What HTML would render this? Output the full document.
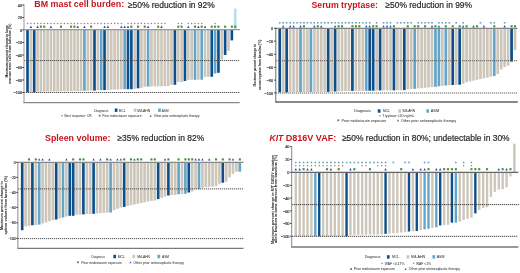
<!DOCTYPE html>
<html><head><meta charset="utf-8"><title>Waterfall plots</title>
<style>
html,body{margin:0;padding:0;background:#fff;width:520px;height:273px;overflow:hidden}
svg{display:block;will-change:transform}
text{font-family:"Liberation Sans",sans-serif}
</style></head><body>
<svg xmlns="http://www.w3.org/2000/svg" width="520" height="273" viewBox="0 0 520 273">
<rect width="520" height="273" fill="#fff"/>
<rect x="26.18" y="29.7" width="2.65" height="62.6" fill="#0d4f8b"/>
<rect x="29.53" y="29.7" width="2.65" height="62.6" fill="#cdc6ba"/>
<rect x="32.88" y="29.7" width="2.65" height="62.6" fill="#0d4f8b"/>
<rect x="36.22" y="29.7" width="2.65" height="62.1" fill="#cdc6ba"/>
<rect x="39.57" y="29.7" width="2.65" height="62.04" fill="#cdc6ba"/>
<rect x="42.92" y="29.7" width="2.65" height="61.98" fill="#cdc6ba"/>
<rect x="46.27" y="29.7" width="2.65" height="61.92" fill="#cdc6ba"/>
<rect x="49.62" y="29.7" width="2.65" height="61.85" fill="#cdc6ba"/>
<rect x="52.97" y="29.7" width="2.65" height="61.79" fill="#cdc6ba"/>
<rect x="56.33" y="29.7" width="2.65" height="61.73" fill="#cdc6ba"/>
<rect x="59.67" y="29.7" width="2.65" height="61.67" fill="#cdc6ba"/>
<rect x="63.02" y="29.7" width="2.65" height="61.61" fill="#cdc6ba"/>
<rect x="66.38" y="29.7" width="2.65" height="61.55" fill="#cdc6ba"/>
<rect x="69.73" y="29.7" width="2.65" height="61.48" fill="#cdc6ba"/>
<rect x="73.08" y="29.7" width="2.65" height="61.42" fill="#cdc6ba"/>
<rect x="76.42" y="29.7" width="2.65" height="61.36" fill="#cdc6ba"/>
<rect x="79.77" y="29.7" width="2.65" height="61.3" fill="#cdc6ba"/>
<rect x="83.12" y="29.7" width="2.65" height="61" fill="#62a6cb"/>
<rect x="86.48" y="29.7" width="2.65" height="61" fill="#cdc6ba"/>
<rect x="89.83" y="29.7" width="2.65" height="60.9" fill="#cdc6ba"/>
<rect x="93.17" y="29.7" width="2.65" height="60.9" fill="#0d4f8b"/>
<rect x="96.53" y="29.7" width="2.65" height="60.5" fill="#cdc6ba"/>
<rect x="99.88" y="29.7" width="2.65" height="60.4" fill="#62a6cb"/>
<rect x="103.22" y="29.7" width="2.65" height="60.4" fill="#0d4f8b"/>
<rect x="106.58" y="29.7" width="2.65" height="60.2" fill="#cdc6ba"/>
<rect x="109.92" y="29.7" width="2.65" height="60.1" fill="#cdc6ba"/>
<rect x="113.28" y="29.7" width="2.65" height="59.9" fill="#cdc6ba"/>
<rect x="116.62" y="29.7" width="2.65" height="59.8" fill="#cdc6ba"/>
<rect x="119.97" y="29.7" width="2.65" height="59.6" fill="#cdc6ba"/>
<rect x="123.33" y="29.7" width="2.65" height="59.5" fill="#62a6cb"/>
<rect x="126.67" y="29.7" width="2.65" height="59.5" fill="#0d4f8b"/>
<rect x="130.03" y="29.7" width="2.65" height="59.5" fill="#0d4f8b"/>
<rect x="133.38" y="29.7" width="2.65" height="59.1" fill="#cdc6ba"/>
<rect x="136.73" y="29.7" width="2.65" height="58.6" fill="#0d4f8b"/>
<rect x="140.08" y="29.7" width="2.65" height="58.2" fill="#cdc6ba"/>
<rect x="143.43" y="29.7" width="2.65" height="57" fill="#cdc6ba"/>
<rect x="146.78" y="29.7" width="2.65" height="56.8" fill="#62a6cb"/>
<rect x="150.12" y="29.7" width="2.65" height="56.75" fill="#cdc6ba"/>
<rect x="153.48" y="29.7" width="2.65" height="56.7" fill="#cdc6ba"/>
<rect x="156.83" y="29.7" width="2.65" height="56.65" fill="#cdc6ba"/>
<rect x="160.18" y="29.7" width="2.65" height="56.6" fill="#cdc6ba"/>
<rect x="163.53" y="29.7" width="2.65" height="56.55" fill="#cdc6ba"/>
<rect x="166.88" y="29.7" width="2.65" height="56.5" fill="#cdc6ba"/>
<rect x="170.23" y="29.7" width="2.65" height="55.1" fill="#cdc6ba"/>
<rect x="173.58" y="29.7" width="2.65" height="55.1" fill="#0d4f8b"/>
<rect x="176.93" y="29.7" width="2.65" height="52.4" fill="#cdc6ba"/>
<rect x="180.28" y="29.7" width="2.65" height="52.4" fill="#cdc6ba"/>
<rect x="183.63" y="29.7" width="2.65" height="51.3" fill="#0d4f8b"/>
<rect x="186.98" y="29.7" width="2.65" height="50.2" fill="#cdc6ba"/>
<rect x="190.33" y="29.7" width="2.65" height="50.1" fill="#cdc6ba"/>
<rect x="193.68" y="29.7" width="2.65" height="50.1" fill="#62a6cb"/>
<rect x="197.03" y="29.7" width="2.65" height="50.1" fill="#cdc6ba"/>
<rect x="200.38" y="29.7" width="2.65" height="50" fill="#62a6cb"/>
<rect x="203.73" y="29.7" width="2.65" height="47.2" fill="#cdc6ba"/>
<rect x="207.08" y="29.7" width="2.65" height="47.1" fill="#cdc6ba"/>
<rect x="210.43" y="29.7" width="2.65" height="47.1" fill="#0d4f8b"/>
<rect x="213.78" y="29.7" width="2.65" height="43.8" fill="#62a6cb"/>
<rect x="217.13" y="29.7" width="2.65" height="43.1" fill="#0d4f8b"/>
<rect x="220.48" y="29.7" width="2.65" height="29.9" fill="#cdc6ba"/>
<rect x="223.83" y="29.7" width="2.65" height="25.3" fill="#0d4f8b"/>
<rect x="227.18" y="29.7" width="2.65" height="21.2" fill="#cdc6ba"/>
<rect x="230.53" y="29.7" width="2.65" height="10.7" fill="#0d4f8b"/>
<rect x="233.88" y="8.6" width="2.65" height="21.1" fill="#b9dcee"/>
<line x1="24" y1="60.55" x2="239" y2="60.55" stroke="#505050" stroke-width="0.95" stroke-dasharray="1.3 0.7"/>
<line x1="24" y1="92.5" x2="239.5" y2="92.5" stroke="#505050" stroke-width="0.95" stroke-dasharray="1.3 0.7"/>
<line x1="24" y1="29.7" x2="240" y2="29.7" stroke="#999" stroke-width="1.2"/>
<line x1="24" y1="4.4" x2="24" y2="102.6" stroke="#999" stroke-width="1"/>
<line x1="23.5" y1="102.6" x2="239.7" y2="102.6" stroke="#8a8a8a" stroke-width="1.3"/>
<line x1="22.2" y1="5" x2="24" y2="5" stroke="#222" stroke-width="0.8"/>
<text x="22.1" y="6.74" font-size="3.8" fill="#222" text-anchor="end" stroke="#222" stroke-width="0.12">40</text>
<line x1="22.2" y1="17.5" x2="24" y2="17.5" stroke="#222" stroke-width="0.8"/>
<text x="22.1" y="19.24" font-size="3.8" fill="#222" text-anchor="end" stroke="#222" stroke-width="0.12">20</text>
<line x1="22.2" y1="29.9" x2="24" y2="29.9" stroke="#222" stroke-width="0.8"/>
<text x="22.1" y="31.64" font-size="3.8" fill="#222" text-anchor="end" stroke="#222" stroke-width="0.12">0</text>
<line x1="22.2" y1="42.5" x2="24" y2="42.5" stroke="#222" stroke-width="0.8"/>
<text x="22.1" y="44.24" font-size="3.8" fill="#222" text-anchor="end" stroke="#222" stroke-width="0.12">−20</text>
<line x1="22.2" y1="55" x2="24" y2="55" stroke="#222" stroke-width="0.8"/>
<text x="22.1" y="56.74" font-size="3.8" fill="#222" text-anchor="end" stroke="#222" stroke-width="0.12">−40</text>
<line x1="22.2" y1="67.5" x2="24" y2="67.5" stroke="#222" stroke-width="0.8"/>
<text x="22.1" y="69.24" font-size="3.8" fill="#222" text-anchor="end" stroke="#222" stroke-width="0.12">−60</text>
<line x1="22.2" y1="80" x2="24" y2="80" stroke="#222" stroke-width="0.8"/>
<text x="22.1" y="81.74" font-size="3.8" fill="#222" text-anchor="end" stroke="#222" stroke-width="0.12">−80</text>
<line x1="22.2" y1="92.5" x2="24" y2="92.5" stroke="#222" stroke-width="0.8"/>
<text x="22.1" y="94.24" font-size="3.8" fill="#222" text-anchor="end" stroke="#222" stroke-width="0.12">−100</text>
<circle cx="27.5" cy="23.6" r="0.75" fill="#e65a5c"/>
<circle cx="30.85" cy="23.6" r="0.75" fill="#e65a5c"/>
<circle cx="34.2" cy="23.6" r="0.75" fill="#e65a5c"/>
<circle cx="37.55" cy="23.6" r="0.75" fill="#e65a5c"/>
<circle cx="40.9" cy="23.6" r="0.75" fill="#e65a5c"/>
<circle cx="44.25" cy="23.6" r="0.75" fill="#e65a5c"/>
<circle cx="47.6" cy="23.6" r="0.75" fill="#e65a5c"/>
<circle cx="50.95" cy="23.6" r="0.75" fill="#e65a5c"/>
<circle cx="54.3" cy="23.6" r="0.75" fill="#e65a5c"/>
<circle cx="57.65" cy="23.6" r="0.75" fill="#e65a5c"/>
<circle cx="61" cy="23.6" r="0.75" fill="#e65a5c"/>
<circle cx="64.35" cy="23.6" r="0.75" fill="#e65a5c"/>
<circle cx="67.7" cy="23.6" r="0.75" fill="#e65a5c"/>
<circle cx="71.05" cy="23.6" r="0.75" fill="#e65a5c"/>
<circle cx="74.4" cy="23.6" r="0.75" fill="#e65a5c"/>
<circle cx="77.75" cy="23.6" r="0.75" fill="#e65a5c"/>
<circle cx="81.1" cy="23.6" r="0.75" fill="#e65a5c"/>
<circle cx="84.45" cy="23.6" r="0.75" fill="#e65a5c"/>
<circle cx="87.8" cy="23.6" r="0.75" fill="#e65a5c"/>
<circle cx="91.15" cy="23.6" r="0.75" fill="#e65a5c"/>
<circle cx="94.5" cy="23.6" r="0.75" fill="#e65a5c"/>
<circle cx="97.85" cy="23.6" r="0.75" fill="#e65a5c"/>
<circle cx="101.2" cy="23.6" r="0.75" fill="#e65a5c"/>
<circle cx="104.55" cy="23.6" r="0.75" fill="#e65a5c"/>
<circle cx="107.9" cy="23.6" r="0.75" fill="#e65a5c"/>
<circle cx="111.25" cy="23.6" r="0.75" fill="#e65a5c"/>
<circle cx="114.6" cy="23.6" r="0.75" fill="#e65a5c"/>
<circle cx="117.95" cy="23.6" r="0.75" fill="#e65a5c"/>
<circle cx="121.3" cy="23.6" r="0.75" fill="#e65a5c"/>
<circle cx="128" cy="23.6" r="0.75" fill="#e65a5c"/>
<circle cx="131.35" cy="23.6" r="0.75" fill="#e65a5c"/>
<circle cx="134.7" cy="23.6" r="0.75" fill="#e65a5c"/>
<circle cx="138.05" cy="23.6" r="0.75" fill="#e65a5c"/>
<circle cx="141.4" cy="23.6" r="0.75" fill="#e65a5c"/>
<circle cx="144.75" cy="23.6" r="0.75" fill="#e65a5c"/>
<circle cx="148.1" cy="23.6" r="0.75" fill="#e65a5c"/>
<circle cx="151.45" cy="23.6" r="0.75" fill="#e65a5c"/>
<circle cx="154.8" cy="23.6" r="0.75" fill="#e65a5c"/>
<circle cx="158.15" cy="23.6" r="0.75" fill="#e65a5c"/>
<circle cx="161.5" cy="23.6" r="0.75" fill="#e65a5c"/>
<circle cx="164.85" cy="23.6" r="0.75" fill="#e65a5c"/>
<circle cx="178.25" cy="23.6" r="0.75" fill="#e65a5c"/>
<circle cx="181.6" cy="23.6" r="0.75" fill="#e65a5c"/>
<circle cx="188.3" cy="23.6" r="0.75" fill="#e65a5c"/>
<circle cx="191.65" cy="23.6" r="0.75" fill="#e65a5c"/>
<circle cx="195" cy="23.6" r="0.75" fill="#e65a5c"/>
<circle cx="198.35" cy="23.6" r="0.75" fill="#e65a5c"/>
<circle cx="201.7" cy="23.6" r="0.75" fill="#e65a5c"/>
<circle cx="215.1" cy="23.6" r="0.75" fill="#e65a5c"/>
<path d="M30.85 25.51L32.1 27.89L29.6 27.89Z" fill="#2f4fb5"/>
<path d="M37.55 25.51L38.8 27.89L36.3 27.89Z" fill="#2f4fb5"/>
<path d="M50.95 25.51L52.2 27.89L49.7 27.89Z" fill="#2f4fb5"/>
<path d="M77.75 25.51L79 27.89L76.5 27.89Z" fill="#2f4fb5"/>
<path d="M84.45 25.51L85.7 27.89L83.2 27.89Z" fill="#2f4fb5"/>
<path d="M104.55 25.51L105.8 27.89L103.3 27.89Z" fill="#2f4fb5"/>
<path d="M107.9 25.51L109.15 27.89L106.65 27.89Z" fill="#2f4fb5"/>
<path d="M121.3 25.51L122.55 27.89L120.05 27.89Z" fill="#2f4fb5"/>
<path d="M124.65 25.51L125.9 27.89L123.4 27.89Z" fill="#2f4fb5"/>
<path d="M128 25.51L129.25 27.89L126.75 27.89Z" fill="#2f4fb5"/>
<path d="M148.1 25.51L149.35 27.89L146.85 27.89Z" fill="#2f4fb5"/>
<path d="M161.5 25.51L162.75 27.89L160.25 27.89Z" fill="#2f4fb5"/>
<path d="M188.3 25.51L189.55 27.89L187.05 27.89Z" fill="#2f4fb5"/>
<path d="M198.35 25.51L199.6 27.89L197.1 27.89Z" fill="#2f4fb5"/>
<path d="M205.05 25.51L206.3 27.89L203.8 27.89Z" fill="#2f4fb5"/>
<rect x="39.85" y="25.65" width="2.1" height="2.1" fill="#41913a"/>
<rect x="43.2" y="25.65" width="2.1" height="2.1" fill="#41913a"/>
<rect x="59.95" y="25.65" width="2.1" height="2.1" fill="#41913a"/>
<rect x="70" y="25.65" width="2.1" height="2.1" fill="#41913a"/>
<rect x="73.35" y="25.65" width="2.1" height="2.1" fill="#41913a"/>
<rect x="90.1" y="25.65" width="2.1" height="2.1" fill="#41913a"/>
<rect x="130.3" y="25.65" width="2.1" height="2.1" fill="#41913a"/>
<rect x="137" y="25.65" width="2.1" height="2.1" fill="#41913a"/>
<rect x="143.7" y="25.65" width="2.1" height="2.1" fill="#41913a"/>
<rect x="157.1" y="25.65" width="2.1" height="2.1" fill="#41913a"/>
<rect x="177.2" y="25.65" width="2.1" height="2.1" fill="#41913a"/>
<rect x="180.55" y="25.65" width="2.1" height="2.1" fill="#41913a"/>
<rect x="193.95" y="25.65" width="2.1" height="2.1" fill="#41913a"/>
<rect x="200.65" y="25.65" width="2.1" height="2.1" fill="#41913a"/>
<rect x="210.7" y="25.65" width="2.1" height="2.1" fill="#41913a"/>
<rect x="214.05" y="25.65" width="2.1" height="2.1" fill="#41913a"/>
<rect x="217.4" y="25.65" width="2.1" height="2.1" fill="#41913a"/>
<rect x="224.1" y="25.65" width="2.1" height="2.1" fill="#41913a"/>
<rect x="230.8" y="25.65" width="2.1" height="2.1" fill="#41913a"/>
<rect x="234.15" y="25.65" width="2.1" height="2.1" fill="#41913a"/>
<text x="34.3" y="7.15" font-size="8.2" fill="#c8131f" font-weight="bold" textLength="89.9" lengthAdjust="spacingAndGlyphs">BM mast cell burden:</text>
<text x="127.9" y="7.6" font-size="9" fill="#262626" textLength="86.9" lengthAdjust="spacingAndGlyphs" stroke="#262626" stroke-width="0.2">≥50% reduction in 92%</text>
<text transform="translate(7.82 51.25) rotate(-90)" x="0" y="0" font-size="3.4" font-weight="bold" fill="#1e1e1e" text-anchor="middle" textLength="52.3" lengthAdjust="spacingAndGlyphs">Maximum percent change in bone</text>
<text transform="translate(11.32 53.75) rotate(-90)" x="0" y="0" font-size="3.4" font-weight="bold" fill="#1e1e1e" text-anchor="middle" textLength="60.1" lengthAdjust="spacingAndGlyphs">marrow mast cells from baseline (%)</text>
<text x="94.2" y="111.55" font-size="4.4" fill="#1a1a1a" textLength="14.1" lengthAdjust="spacingAndGlyphs">Diagnosis</text>
<rect x="114.75" y="108.5" width="2.7" height="3.4" fill="#0d4f8b"/>
<text x="118.8" y="111.55" font-size="4.4" fill="#1a1a1a" textLength="6.8" lengthAdjust="spacingAndGlyphs">MCL</text>
<rect x="133.65" y="108.5" width="2.7" height="3.4" fill="#cdc6ba"/>
<text x="136.9" y="111.55" font-size="4.4" fill="#1a1a1a" textLength="13.3" lengthAdjust="spacingAndGlyphs">SM-AHN</text>
<rect x="158.15" y="108.5" width="2.7" height="3.4" fill="#62a6cb"/>
<text x="161.7" y="111.55" font-size="4.4" fill="#1a1a1a" textLength="6.8" lengthAdjust="spacingAndGlyphs">ASM</text>
<circle cx="62" cy="115.7" r="0.8" fill="#e65a5c"/><text x="64.4" y="117.05" font-size="4.4" fill="#1a1a1a" textLength="27.1" lengthAdjust="spacingAndGlyphs">Best response: CR</text>
<rect x="98.7" y="114.8" width="1.8" height="1.8" fill="#41913a"/><text x="102.3" y="117.05" font-size="4.4" fill="#1a1a1a" textLength="39.2" lengthAdjust="spacingAndGlyphs">Prior midostaurin exposure</text>
<path d="M150.6 114.75L151.6 116.65L149.6 116.65Z" fill="#2f4fb5"/><text x="153.8" y="117.05" font-size="4.4" fill="#1a1a1a" textLength="45.7" lengthAdjust="spacingAndGlyphs">Other prior antineoplastic therapy</text>
<rect x="278.4" y="28.3" width="2.7" height="64.1" fill="#0d4f8b"/>
<rect x="281.86" y="28.3" width="2.7" height="64.1" fill="#cdc6ba"/>
<rect x="285.32" y="28.3" width="2.7" height="64.1" fill="#0d4f8b"/>
<rect x="288.78" y="28.3" width="2.7" height="63.9" fill="#cdc6ba"/>
<rect x="292.24" y="28.3" width="2.7" height="63.87" fill="#cdc6ba"/>
<rect x="295.7" y="28.3" width="2.7" height="63.84" fill="#cdc6ba"/>
<rect x="299.16" y="28.3" width="2.7" height="63.81" fill="#62a6cb"/>
<rect x="302.62" y="28.3" width="2.7" height="63.78" fill="#cdc6ba"/>
<rect x="306.08" y="28.3" width="2.7" height="63.75" fill="#cdc6ba"/>
<rect x="309.54" y="28.3" width="2.7" height="63.72" fill="#62a6cb"/>
<rect x="313" y="28.3" width="2.7" height="63.69" fill="#cdc6ba"/>
<rect x="316.46" y="28.3" width="2.7" height="63.66" fill="#cdc6ba"/>
<rect x="319.92" y="28.3" width="2.7" height="63.63" fill="#cdc6ba"/>
<rect x="323.38" y="28.3" width="2.7" height="63.6" fill="#cdc6ba"/>
<rect x="326.84" y="28.3" width="2.7" height="63.6" fill="#0d4f8b"/>
<rect x="330.3" y="28.3" width="2.7" height="63.4" fill="#cdc6ba"/>
<rect x="333.76" y="28.3" width="2.7" height="63.2" fill="#0d4f8b"/>
<rect x="337.22" y="28.3" width="2.7" height="62.9" fill="#cdc6ba"/>
<rect x="340.68" y="28.3" width="2.7" height="62.8" fill="#cdc6ba"/>
<rect x="344.14" y="28.3" width="2.7" height="62.7" fill="#cdc6ba"/>
<rect x="347.6" y="28.3" width="2.7" height="62.7" fill="#cdc6ba"/>
<rect x="351.06" y="28.3" width="2.7" height="62.6" fill="#0d4f8b"/>
<rect x="354.52" y="28.3" width="2.7" height="62.6" fill="#cdc6ba"/>
<rect x="357.98" y="28.3" width="2.7" height="62.5" fill="#cdc6ba"/>
<rect x="361.44" y="28.3" width="2.7" height="62.5" fill="#cdc6ba"/>
<rect x="364.9" y="28.3" width="2.7" height="62.5" fill="#62a6cb"/>
<rect x="368.36" y="28.3" width="2.7" height="62.4" fill="#0d4f8b"/>
<rect x="371.82" y="28.3" width="2.7" height="62.4" fill="#0d4f8b"/>
<rect x="375.28" y="28.3" width="2.7" height="62.3" fill="#cdc6ba"/>
<rect x="378.74" y="28.3" width="2.7" height="62.1" fill="#0d4f8b"/>
<rect x="382.2" y="28.3" width="2.7" height="62.1" fill="#cdc6ba"/>
<rect x="385.66" y="28.3" width="2.7" height="62.1" fill="#cdc6ba"/>
<rect x="389.12" y="28.3" width="2.7" height="62.1" fill="#cdc6ba"/>
<rect x="392.58" y="28.3" width="2.7" height="62.1" fill="#0d4f8b"/>
<rect x="396.04" y="28.3" width="2.7" height="61.9" fill="#cdc6ba"/>
<rect x="399.5" y="28.3" width="2.7" height="61.9" fill="#cdc6ba"/>
<rect x="402.96" y="28.3" width="2.7" height="61.8" fill="#0d4f8b"/>
<rect x="406.42" y="28.3" width="2.7" height="61.2" fill="#cdc6ba"/>
<rect x="409.88" y="28.3" width="2.7" height="60.7" fill="#cdc6ba"/>
<rect x="413.34" y="28.3" width="2.7" height="60.5" fill="#62a6cb"/>
<rect x="416.8" y="28.3" width="2.7" height="60.2" fill="#cdc6ba"/>
<rect x="420.26" y="28.3" width="2.7" height="59.9" fill="#cdc6ba"/>
<rect x="423.72" y="28.3" width="2.7" height="59.5" fill="#cdc6ba"/>
<rect x="427.18" y="28.3" width="2.7" height="59.2" fill="#cdc6ba"/>
<rect x="430.64" y="28.3" width="2.7" height="58.8" fill="#cdc6ba"/>
<rect x="434.1" y="28.3" width="2.7" height="58.5" fill="#62a6cb"/>
<rect x="437.56" y="28.3" width="2.7" height="58" fill="#62a6cb"/>
<rect x="441.02" y="28.3" width="2.7" height="57.5" fill="#cdc6ba"/>
<rect x="444.48" y="28.3" width="2.7" height="57.2" fill="#62a6cb"/>
<rect x="447.94" y="28.3" width="2.7" height="56.9" fill="#cdc6ba"/>
<rect x="451.4" y="28.3" width="2.7" height="56.7" fill="#0d4f8b"/>
<rect x="454.86" y="28.3" width="2.7" height="56.6" fill="#cdc6ba"/>
<rect x="458.32" y="28.3" width="2.7" height="56.4" fill="#0d4f8b"/>
<rect x="461.78" y="28.3" width="2.7" height="55.5" fill="#cdc6ba"/>
<rect x="465.24" y="28.3" width="2.7" height="53.9" fill="#cdc6ba"/>
<rect x="468.7" y="28.3" width="2.7" height="53.13" fill="#cdc6ba"/>
<rect x="472.16" y="28.3" width="2.7" height="52.36" fill="#cdc6ba"/>
<rect x="475.62" y="28.3" width="2.7" height="51.59" fill="#cdc6ba"/>
<rect x="479.08" y="28.3" width="2.7" height="50.81" fill="#cdc6ba"/>
<rect x="482.54" y="28.3" width="2.7" height="50.04" fill="#cdc6ba"/>
<rect x="486" y="28.3" width="2.7" height="49.27" fill="#cdc6ba"/>
<rect x="489.46" y="28.3" width="2.7" height="48.5" fill="#cdc6ba"/>
<rect x="492.92" y="28.3" width="2.7" height="47.7" fill="#62a6cb"/>
<rect x="496.38" y="28.3" width="2.7" height="45.7" fill="#cdc6ba"/>
<rect x="499.84" y="28.3" width="2.7" height="41.2" fill="#cdc6ba"/>
<rect x="503.3" y="28.3" width="2.7" height="38.6" fill="#cdc6ba"/>
<rect x="506.76" y="28.3" width="2.7" height="37.4" fill="#cdc6ba"/>
<rect x="510.22" y="28.3" width="2.7" height="33.3" fill="#0d4f8b"/>
<rect x="513.68" y="28.3" width="2.7" height="21.8" fill="#cdc6ba"/>
<line x1="275.8" y1="60.7" x2="517.5" y2="60.7" stroke="#5a5a5a" stroke-width="0.95" stroke-dasharray="1.2 0.8"/>
<line x1="275.8" y1="93" x2="517.5" y2="93" stroke="#5a5a5a" stroke-width="0.95" stroke-dasharray="1.2 0.8"/>
<line x1="275.8" y1="28.3" x2="517.5" y2="28.3" stroke="#858585" stroke-width="1.2"/>
<line x1="275.8" y1="27.6" x2="275.8" y2="102" stroke="#707070" stroke-width="1"/>
<line x1="275.3" y1="102" x2="517.8" y2="102" stroke="#606060" stroke-width="1.3"/>
<line x1="274" y1="28.3" x2="275.8" y2="28.3" stroke="#222" stroke-width="0.8"/>
<text x="273" y="30.04" font-size="3.8" fill="#222" text-anchor="end" stroke="#222" stroke-width="0.12">0</text>
<line x1="274" y1="41.2" x2="275.8" y2="41.2" stroke="#222" stroke-width="0.8"/>
<text x="273" y="42.94" font-size="3.8" fill="#222" text-anchor="end" stroke="#222" stroke-width="0.12">−20</text>
<line x1="274" y1="54.3" x2="275.8" y2="54.3" stroke="#222" stroke-width="0.8"/>
<text x="273" y="56.04" font-size="3.8" fill="#222" text-anchor="end" stroke="#222" stroke-width="0.12">−40</text>
<line x1="274" y1="67.4" x2="275.8" y2="67.4" stroke="#222" stroke-width="0.8"/>
<text x="273" y="69.14" font-size="3.8" fill="#222" text-anchor="end" stroke="#222" stroke-width="0.12">−60</text>
<line x1="274" y1="80.1" x2="275.8" y2="80.1" stroke="#222" stroke-width="0.8"/>
<text x="273" y="81.84" font-size="3.8" fill="#222" text-anchor="end" stroke="#222" stroke-width="0.12">−80</text>
<line x1="274" y1="92.9" x2="275.8" y2="92.9" stroke="#222" stroke-width="0.8"/>
<text x="273" y="94.64" font-size="3.8" fill="#222" text-anchor="end" stroke="#222" stroke-width="0.12">−100</text>
<rect x="278.95" y="22" width="1.6" height="1.6" fill="#6a9fb8"/>
<rect x="282.41" y="22" width="1.6" height="1.6" fill="#6a9fb8"/>
<rect x="285.87" y="22" width="1.6" height="1.6" fill="#6a9fb8"/>
<rect x="289.33" y="22" width="1.6" height="1.6" fill="#6a9fb8"/>
<rect x="292.79" y="22" width="1.6" height="1.6" fill="#6a9fb8"/>
<rect x="296.25" y="22" width="1.6" height="1.6" fill="#6a9fb8"/>
<rect x="299.71" y="22" width="1.6" height="1.6" fill="#6a9fb8"/>
<rect x="303.17" y="22" width="1.6" height="1.6" fill="#6a9fb8"/>
<rect x="306.63" y="22" width="1.6" height="1.6" fill="#6a9fb8"/>
<rect x="310.09" y="22" width="1.6" height="1.6" fill="#6a9fb8"/>
<rect x="313.55" y="22" width="1.6" height="1.6" fill="#6a9fb8"/>
<rect x="317.01" y="22" width="1.6" height="1.6" fill="#6a9fb8"/>
<rect x="320.47" y="22" width="1.6" height="1.6" fill="#6a9fb8"/>
<rect x="323.93" y="22" width="1.6" height="1.6" fill="#6a9fb8"/>
<rect x="327.39" y="22" width="1.6" height="1.6" fill="#6a9fb8"/>
<rect x="330.85" y="22" width="1.6" height="1.6" fill="#6a9fb8"/>
<rect x="334.31" y="22" width="1.6" height="1.6" fill="#6a9fb8"/>
<rect x="337.77" y="22" width="1.6" height="1.6" fill="#6a9fb8"/>
<rect x="341.23" y="22" width="1.6" height="1.6" fill="#6a9fb8"/>
<rect x="344.69" y="22" width="1.6" height="1.6" fill="#6a9fb8"/>
<rect x="348.15" y="22" width="1.6" height="1.6" fill="#6a9fb8"/>
<rect x="351.61" y="22" width="1.6" height="1.6" fill="#6a9fb8"/>
<rect x="355.07" y="22" width="1.6" height="1.6" fill="#6a9fb8"/>
<rect x="358.53" y="22" width="1.6" height="1.6" fill="#6a9fb8"/>
<rect x="361.99" y="22" width="1.6" height="1.6" fill="#6a9fb8"/>
<rect x="365.45" y="22" width="1.6" height="1.6" fill="#6a9fb8"/>
<rect x="368.91" y="22" width="1.6" height="1.6" fill="#6a9fb8"/>
<rect x="375.83" y="22" width="1.6" height="1.6" fill="#6a9fb8"/>
<rect x="382.75" y="22" width="1.6" height="1.6" fill="#6a9fb8"/>
<rect x="386.21" y="22" width="1.6" height="1.6" fill="#6a9fb8"/>
<rect x="389.67" y="22" width="1.6" height="1.6" fill="#6a9fb8"/>
<rect x="396.59" y="22" width="1.6" height="1.6" fill="#6a9fb8"/>
<rect x="400.05" y="22" width="1.6" height="1.6" fill="#6a9fb8"/>
<rect x="403.51" y="22" width="1.6" height="1.6" fill="#6a9fb8"/>
<rect x="406.97" y="22" width="1.6" height="1.6" fill="#6a9fb8"/>
<rect x="410.43" y="22" width="1.6" height="1.6" fill="#6a9fb8"/>
<rect x="417.35" y="22" width="1.6" height="1.6" fill="#6a9fb8"/>
<rect x="420.81" y="22" width="1.6" height="1.6" fill="#6a9fb8"/>
<rect x="424.27" y="22" width="1.6" height="1.6" fill="#6a9fb8"/>
<rect x="427.73" y="22" width="1.6" height="1.6" fill="#6a9fb8"/>
<rect x="431.19" y="22" width="1.6" height="1.6" fill="#6a9fb8"/>
<rect x="438.11" y="22" width="1.6" height="1.6" fill="#6a9fb8"/>
<rect x="441.57" y="22" width="1.6" height="1.6" fill="#6a9fb8"/>
<rect x="445.03" y="22" width="1.6" height="1.6" fill="#6a9fb8"/>
<rect x="448.49" y="22" width="1.6" height="1.6" fill="#6a9fb8"/>
<rect x="455.41" y="22" width="1.6" height="1.6" fill="#6a9fb8"/>
<rect x="462.33" y="22" width="1.6" height="1.6" fill="#6a9fb8"/>
<rect x="479.63" y="22" width="1.6" height="1.6" fill="#6a9fb8"/>
<rect x="490.01" y="22" width="1.6" height="1.6" fill="#6a9fb8"/>
<rect x="493.47" y="22" width="1.6" height="1.6" fill="#6a9fb8"/>
<rect x="503.85" y="22" width="1.6" height="1.6" fill="#6a9fb8"/>
<path d="M283.21 25.11L284.46 27.49L281.96 27.49Z" fill="#2f4fb5"/>
<path d="M290.13 25.11L291.38 27.49L288.88 27.49Z" fill="#2f4fb5"/>
<path d="M293.59 25.11L294.84 27.49L292.34 27.49Z" fill="#2f4fb5"/>
<path d="M300.51 25.11L301.76 27.49L299.26 27.49Z" fill="#2f4fb5"/>
<path d="M314.35 25.11L315.6 27.49L313.1 27.49Z" fill="#2f4fb5"/>
<path d="M321.27 25.11L322.52 27.49L320.02 27.49Z" fill="#2f4fb5"/>
<path d="M335.11 25.11L336.36 27.49L333.86 27.49Z" fill="#2f4fb5"/>
<path d="M366.25 25.11L367.5 27.49L365 27.49Z" fill="#2f4fb5"/>
<path d="M369.71 25.11L370.96 27.49L368.46 27.49Z" fill="#2f4fb5"/>
<path d="M383.55 25.11L384.8 27.49L382.3 27.49Z" fill="#2f4fb5"/>
<path d="M387.01 25.11L388.26 27.49L385.76 27.49Z" fill="#2f4fb5"/>
<path d="M390.47 25.11L391.72 27.49L389.22 27.49Z" fill="#2f4fb5"/>
<path d="M431.99 25.11L433.24 27.49L430.74 27.49Z" fill="#2f4fb5"/>
<path d="M438.91 25.11L440.16 27.49L437.66 27.49Z" fill="#2f4fb5"/>
<path d="M463.13 25.11L464.38 27.49L461.88 27.49Z" fill="#2f4fb5"/>
<path d="M473.51 25.11L474.76 27.49L472.26 27.49Z" fill="#2f4fb5"/>
<path d="M483.89 25.11L485.14 27.49L482.64 27.49Z" fill="#2f4fb5"/>
<path d="M504.65 25.11L505.9 27.49L503.4 27.49Z" fill="#2f4fb5"/>
<rect x="302.92" y="25.25" width="2.1" height="2.1" fill="#41913a"/>
<rect x="316.76" y="25.25" width="2.1" height="2.1" fill="#41913a"/>
<rect x="337.52" y="25.25" width="2.1" height="2.1" fill="#41913a"/>
<rect x="340.98" y="25.25" width="2.1" height="2.1" fill="#41913a"/>
<rect x="351.36" y="25.25" width="2.1" height="2.1" fill="#41913a"/>
<rect x="354.82" y="25.25" width="2.1" height="2.1" fill="#41913a"/>
<rect x="358.28" y="25.25" width="2.1" height="2.1" fill="#41913a"/>
<rect x="372.12" y="25.25" width="2.1" height="2.1" fill="#41913a"/>
<rect x="375.58" y="25.25" width="2.1" height="2.1" fill="#41913a"/>
<rect x="392.88" y="25.25" width="2.1" height="2.1" fill="#41913a"/>
<rect x="406.72" y="25.25" width="2.1" height="2.1" fill="#41913a"/>
<rect x="413.64" y="25.25" width="2.1" height="2.1" fill="#41913a"/>
<rect x="417.1" y="25.25" width="2.1" height="2.1" fill="#41913a"/>
<rect x="424.02" y="25.25" width="2.1" height="2.1" fill="#41913a"/>
<rect x="434.4" y="25.25" width="2.1" height="2.1" fill="#41913a"/>
<rect x="444.78" y="25.25" width="2.1" height="2.1" fill="#41913a"/>
<rect x="451.7" y="25.25" width="2.1" height="2.1" fill="#41913a"/>
<rect x="458.62" y="25.25" width="2.1" height="2.1" fill="#41913a"/>
<rect x="465.54" y="25.25" width="2.1" height="2.1" fill="#41913a"/>
<rect x="475.92" y="25.25" width="2.1" height="2.1" fill="#41913a"/>
<rect x="493.22" y="25.25" width="2.1" height="2.1" fill="#41913a"/>
<rect x="510.52" y="25.25" width="2.1" height="2.1" fill="#41913a"/>
<rect x="513.98" y="25.25" width="2.1" height="2.1" fill="#41913a"/>
<text x="311.5" y="7.5" font-size="9" fill="#c8131f" font-weight="bold" textLength="66.5" lengthAdjust="spacingAndGlyphs">Serum tryptase:</text>
<text x="385.5" y="7.6" font-size="9" fill="#262626" textLength="86.5" lengthAdjust="spacingAndGlyphs" stroke="#262626" stroke-width="0.2">≥50% reduction in 99%</text>
<text transform="translate(256.39 65.3) rotate(-90)" x="0" y="0" font-size="3.3" font-weight="bold" fill="#1e1e1e" text-anchor="middle" textLength="42.4" lengthAdjust="spacingAndGlyphs">Maximum percent change in</text>
<text transform="translate(260.69 64.9) rotate(-90)" x="0" y="0" font-size="3.3" font-weight="bold" fill="#1e1e1e" text-anchor="middle" textLength="50.4" lengthAdjust="spacingAndGlyphs">serum tryptase from baseline (%)</text>
<text x="354.2" y="112.35" font-size="4.4" fill="#1a1a1a" textLength="16.8" lengthAdjust="spacingAndGlyphs">Diagnosis</text>
<rect x="377.75" y="109.3" width="2.7" height="3.4" fill="#0d4f8b"/>
<text x="383" y="112.35" font-size="4.4" fill="#1a1a1a" textLength="7" lengthAdjust="spacingAndGlyphs">MCL</text>
<rect x="398.25" y="109.3" width="2.7" height="3.4" fill="#cdc6ba"/>
<text x="402.3" y="112.35" font-size="4.4" fill="#1a1a1a" textLength="12.7" lengthAdjust="spacingAndGlyphs">SM-AHN</text>
<rect x="426.35" y="109.3" width="2.7" height="3.4" fill="#62a6cb"/>
<text x="430.7" y="112.35" font-size="4.4" fill="#1a1a1a" textLength="8.5" lengthAdjust="spacingAndGlyphs">ASM</text>
<rect x="379.3" y="115.1" width="1.4" height="1.4" fill="#6a9fb8"/><text x="382.6" y="117.15" font-size="4.4" fill="#1a1a1a" textLength="31.9" lengthAdjust="spacingAndGlyphs">Tryptase &lt;20 ng/mL</text>
<rect x="337.4" y="119.4" width="1.8" height="1.8" fill="#41913a"/><text x="341.5" y="121.65" font-size="4.4" fill="#1a1a1a" textLength="44.8" lengthAdjust="spacingAndGlyphs">Prior midostaurin exposure</text>
<path d="M398 119.35L399 121.25L397 121.25Z" fill="#2f4fb5"/><text x="400.8" y="121.65" font-size="4.4" fill="#1a1a1a" textLength="55.2" lengthAdjust="spacingAndGlyphs">Other prior antineoplastic therapy</text>
<rect x="20.88" y="162.3" width="2.65" height="67.9" fill="#0d4f8b"/>
<rect x="24.27" y="162.3" width="2.65" height="64" fill="#cdc6ba"/>
<rect x="27.68" y="162.3" width="2.65" height="63.5" fill="#cdc6ba"/>
<rect x="31.07" y="162.3" width="2.65" height="62.9" fill="#0d4f8b"/>
<rect x="34.47" y="162.3" width="2.65" height="62.7" fill="#cdc6ba"/>
<rect x="37.88" y="162.3" width="2.65" height="62.3" fill="#62a6cb"/>
<rect x="41.27" y="162.3" width="2.65" height="61.2" fill="#cdc6ba"/>
<rect x="44.67" y="162.3" width="2.65" height="60.2" fill="#cdc6ba"/>
<rect x="48.07" y="162.3" width="2.65" height="59" fill="#cdc6ba"/>
<rect x="51.47" y="162.3" width="2.65" height="57.9" fill="#cdc6ba"/>
<rect x="54.88" y="162.3" width="2.65" height="57.2" fill="#0d4f8b"/>
<rect x="58.27" y="162.3" width="2.65" height="56.1" fill="#cdc6ba"/>
<rect x="61.67" y="162.3" width="2.65" height="55.2" fill="#62a6cb"/>
<rect x="65.07" y="162.3" width="2.65" height="54.2" fill="#cdc6ba"/>
<rect x="68.47" y="162.3" width="2.65" height="53.5" fill="#0d4f8b"/>
<rect x="71.88" y="162.3" width="2.65" height="53.5" fill="#0d4f8b"/>
<rect x="75.27" y="162.3" width="2.65" height="52.4" fill="#cdc6ba"/>
<rect x="78.67" y="162.3" width="2.65" height="52.4" fill="#cdc6ba"/>
<rect x="82.07" y="162.3" width="2.65" height="52.1" fill="#0d4f8b"/>
<rect x="85.47" y="162.3" width="2.65" height="51.7" fill="#cdc6ba"/>
<rect x="88.88" y="162.3" width="2.65" height="51.7" fill="#cdc6ba"/>
<rect x="92.27" y="162.3" width="2.65" height="51.5" fill="#0d4f8b"/>
<rect x="95.67" y="162.3" width="2.65" height="51.2" fill="#cdc6ba"/>
<rect x="99.08" y="162.3" width="2.65" height="50.9" fill="#cdc6ba"/>
<rect x="102.47" y="162.3" width="2.65" height="50.6" fill="#cdc6ba"/>
<rect x="105.88" y="162.3" width="2.65" height="50.3" fill="#cdc6ba"/>
<rect x="109.27" y="162.3" width="2.65" height="50.2" fill="#62a6cb"/>
<rect x="112.67" y="162.3" width="2.65" height="47.9" fill="#cdc6ba"/>
<rect x="116.08" y="162.3" width="2.65" height="46.5" fill="#cdc6ba"/>
<rect x="119.47" y="162.3" width="2.65" height="45.1" fill="#cdc6ba"/>
<rect x="122.88" y="162.3" width="2.65" height="44.6" fill="#0d4f8b"/>
<rect x="126.27" y="162.3" width="2.65" height="43.7" fill="#cdc6ba"/>
<rect x="129.68" y="162.3" width="2.65" height="42.9" fill="#cdc6ba"/>
<rect x="133.08" y="162.3" width="2.65" height="42.2" fill="#cdc6ba"/>
<rect x="136.47" y="162.3" width="2.65" height="41.46" fill="#cdc6ba"/>
<rect x="139.88" y="162.3" width="2.65" height="40.72" fill="#cdc6ba"/>
<rect x="143.28" y="162.3" width="2.65" height="39.98" fill="#cdc6ba"/>
<rect x="146.68" y="162.3" width="2.65" height="39.24" fill="#cdc6ba"/>
<rect x="150.07" y="162.3" width="2.65" height="38.5" fill="#cdc6ba"/>
<rect x="153.47" y="162.3" width="2.65" height="38.3" fill="#cdc6ba"/>
<rect x="156.88" y="162.3" width="2.65" height="36.8" fill="#0d4f8b"/>
<rect x="160.28" y="162.3" width="2.65" height="35.5" fill="#cdc6ba"/>
<rect x="163.67" y="162.3" width="2.65" height="34.3" fill="#cdc6ba"/>
<rect x="167.07" y="162.3" width="2.65" height="33.2" fill="#0d4f8b"/>
<rect x="170.47" y="162.3" width="2.65" height="32.7" fill="#cdc6ba"/>
<rect x="173.88" y="162.3" width="2.65" height="32.7" fill="#cdc6ba"/>
<rect x="177.28" y="162.3" width="2.65" height="31.9" fill="#62a6cb"/>
<rect x="180.67" y="162.3" width="2.65" height="31.7" fill="#cdc6ba"/>
<rect x="184.07" y="162.3" width="2.65" height="31.5" fill="#62a6cb"/>
<rect x="187.47" y="162.3" width="2.65" height="30.2" fill="#0d4f8b"/>
<rect x="190.88" y="162.3" width="2.65" height="29.2" fill="#cdc6ba"/>
<rect x="194.28" y="162.3" width="2.65" height="27" fill="#cdc6ba"/>
<rect x="197.67" y="162.3" width="2.65" height="27" fill="#62a6cb"/>
<rect x="201.07" y="162.3" width="2.65" height="25.6" fill="#cdc6ba"/>
<rect x="204.47" y="162.3" width="2.65" height="24.8" fill="#cdc6ba"/>
<rect x="207.88" y="162.3" width="2.65" height="24.5" fill="#cdc6ba"/>
<rect x="211.28" y="162.3" width="2.65" height="24.4" fill="#cdc6ba"/>
<rect x="214.67" y="162.3" width="2.65" height="23.8" fill="#cdc6ba"/>
<rect x="218.07" y="162.3" width="2.65" height="21.45" fill="#cdc6ba"/>
<rect x="221.47" y="162.3" width="2.65" height="20.4" fill="#0d4f8b"/>
<rect x="224.88" y="162.3" width="2.65" height="19.4" fill="#cdc6ba"/>
<rect x="228.28" y="162.3" width="2.65" height="15" fill="#cdc6ba"/>
<rect x="231.67" y="162.3" width="2.65" height="11.6" fill="#cdc6ba"/>
<rect x="235.07" y="162.3" width="2.65" height="9.4" fill="#cdc6ba"/>
<rect x="238.47" y="162.3" width="2.65" height="9.4" fill="#62a6cb"/>
<line x1="17.9" y1="188.9" x2="243.5" y2="188.9" stroke="#4a4a4a" stroke-width="0.95" stroke-dasharray="1.2 0.8"/>
<line x1="17.9" y1="238.6" x2="243.5" y2="238.6" stroke="#4a4a4a" stroke-width="0.95" stroke-dasharray="1.2 0.8"/>
<line x1="17.9" y1="162.3" x2="243.5" y2="162.3" stroke="#888" stroke-width="1.2"/>
<line x1="17.9" y1="162" x2="17.9" y2="248.4" stroke="#888" stroke-width="1"/>
<line x1="17.4" y1="248.4" x2="243.5" y2="248.4" stroke="#7a7a7a" stroke-width="1.3"/>
<line x1="16.1" y1="162.3" x2="17.9" y2="162.3" stroke="#222" stroke-width="0.8"/>
<text x="15.6" y="163.85" font-size="3.3" fill="#222" text-anchor="end" stroke="#222" stroke-width="0.12">0</text>
<line x1="16.1" y1="177.3" x2="17.9" y2="177.3" stroke="#222" stroke-width="0.8"/>
<text x="15.6" y="178.85" font-size="3.3" fill="#222" text-anchor="end" stroke="#222" stroke-width="0.12">−20</text>
<line x1="16.1" y1="192.4" x2="17.9" y2="192.4" stroke="#222" stroke-width="0.8"/>
<text x="15.6" y="193.95" font-size="3.3" fill="#222" text-anchor="end" stroke="#222" stroke-width="0.12">−40</text>
<line x1="16.1" y1="207.4" x2="17.9" y2="207.4" stroke="#222" stroke-width="0.8"/>
<text x="15.6" y="208.95" font-size="3.3" fill="#222" text-anchor="end" stroke="#222" stroke-width="0.12">−60</text>
<line x1="16.1" y1="222.8" x2="17.9" y2="222.8" stroke="#222" stroke-width="0.8"/>
<text x="15.6" y="224.35" font-size="3.3" fill="#222" text-anchor="end" stroke="#222" stroke-width="0.12">−80</text>
<line x1="16.1" y1="238.4" x2="17.9" y2="238.4" stroke="#222" stroke-width="0.8"/>
<text x="15.6" y="239.95" font-size="3.3" fill="#222" text-anchor="end" stroke="#222" stroke-width="0.12">−100</text>
<path d="M39.2 158.21L40.45 160.59L37.95 160.59Z" fill="#2f4fb5"/>
<path d="M42.6 158.21L43.85 160.59L41.35 160.59Z" fill="#2f4fb5"/>
<path d="M49.4 158.21L50.65 160.59L48.15 160.59Z" fill="#2f4fb5"/>
<path d="M66.4 158.21L67.65 160.59L65.15 160.59Z" fill="#2f4fb5"/>
<path d="M93.6 158.21L94.85 160.59L92.35 160.59Z" fill="#2f4fb5"/>
<path d="M100.4 158.21L101.65 160.59L99.15 160.59Z" fill="#2f4fb5"/>
<path d="M110.6 158.21L111.85 160.59L109.35 160.59Z" fill="#2f4fb5"/>
<path d="M117.4 158.21L118.65 160.59L116.15 160.59Z" fill="#2f4fb5"/>
<path d="M120.8 158.21L122.05 160.59L119.55 160.59Z" fill="#2f4fb5"/>
<path d="M134.4 158.21L135.65 160.59L133.15 160.59Z" fill="#2f4fb5"/>
<path d="M165 158.21L166.25 160.59L163.75 160.59Z" fill="#2f4fb5"/>
<path d="M195.6 158.21L196.85 160.59L194.35 160.59Z" fill="#2f4fb5"/>
<path d="M199 158.21L200.25 160.59L197.75 160.59Z" fill="#2f4fb5"/>
<path d="M202.4 158.21L203.65 160.59L201.15 160.59Z" fill="#2f4fb5"/>
<path d="M209.2 158.21L210.45 160.59L207.95 160.59Z" fill="#2f4fb5"/>
<path d="M233 158.21L234.25 160.59L231.75 160.59Z" fill="#2f4fb5"/>
<rect x="27.95" y="158.35" width="2.1" height="2.1" fill="#41913a"/>
<rect x="34.75" y="158.35" width="2.1" height="2.1" fill="#41913a"/>
<rect x="72.15" y="158.35" width="2.1" height="2.1" fill="#41913a"/>
<rect x="78.95" y="158.35" width="2.1" height="2.1" fill="#41913a"/>
<rect x="82.35" y="158.35" width="2.1" height="2.1" fill="#41913a"/>
<rect x="106.15" y="158.35" width="2.1" height="2.1" fill="#41913a"/>
<rect x="123.15" y="158.35" width="2.1" height="2.1" fill="#41913a"/>
<rect x="129.95" y="158.35" width="2.1" height="2.1" fill="#41913a"/>
<rect x="136.75" y="158.35" width="2.1" height="2.1" fill="#41913a"/>
<rect x="140.15" y="158.35" width="2.1" height="2.1" fill="#41913a"/>
<rect x="150.35" y="158.35" width="2.1" height="2.1" fill="#41913a"/>
<rect x="153.75" y="158.35" width="2.1" height="2.1" fill="#41913a"/>
<rect x="167.35" y="158.35" width="2.1" height="2.1" fill="#41913a"/>
<rect x="177.55" y="158.35" width="2.1" height="2.1" fill="#41913a"/>
<rect x="184.35" y="158.35" width="2.1" height="2.1" fill="#41913a"/>
<rect x="187.75" y="158.35" width="2.1" height="2.1" fill="#41913a"/>
<rect x="191.15" y="158.35" width="2.1" height="2.1" fill="#41913a"/>
<rect x="214.95" y="158.35" width="2.1" height="2.1" fill="#41913a"/>
<rect x="221.75" y="158.35" width="2.1" height="2.1" fill="#41913a"/>
<rect x="228.55" y="158.35" width="2.1" height="2.1" fill="#41913a"/>
<rect x="238.75" y="158.35" width="2.1" height="2.1" fill="#41913a"/>
<text x="45" y="140.7" font-size="8.8" fill="#c8131f" font-weight="bold" textLength="65.4" lengthAdjust="spacingAndGlyphs">Spleen volume:</text>
<text x="117.4" y="141.1" font-size="8.8" fill="#262626" textLength="86.8" lengthAdjust="spacingAndGlyphs" stroke="#262626" stroke-width="0.2">≥35% reduction in 82%</text>
<text transform="translate(3.1 205.65) rotate(-90)" x="0" y="0" font-size="3.6" font-weight="bold" fill="#1e1e1e" text-anchor="middle" textLength="48.9" lengthAdjust="spacingAndGlyphs">Maximum percent change in</text>
<text transform="translate(7.3 205.3) rotate(-90)" x="0" y="0" font-size="3.6" font-weight="bold" fill="#1e1e1e" text-anchor="middle" textLength="58.6" lengthAdjust="spacingAndGlyphs">spleen volume from baseline (%)</text>
<text x="91.6" y="257.85" font-size="4.4" fill="#1a1a1a" textLength="13.4" lengthAdjust="spacingAndGlyphs">Diagnosis</text>
<rect x="113.35" y="254.8" width="2.7" height="3.4" fill="#0d4f8b"/>
<text x="117.7" y="257.85" font-size="4.4" fill="#1a1a1a" textLength="7.3" lengthAdjust="spacingAndGlyphs">MCL</text>
<rect x="132.45" y="254.8" width="2.7" height="3.4" fill="#cdc6ba"/>
<text x="136.9" y="257.85" font-size="4.4" fill="#1a1a1a" textLength="13.1" lengthAdjust="spacingAndGlyphs">SM-AHN</text>
<rect x="157.45" y="254.8" width="2.7" height="3.4" fill="#62a6cb"/>
<text x="162" y="257.85" font-size="4.4" fill="#1a1a1a" textLength="7" lengthAdjust="spacingAndGlyphs">ASM</text>
<rect x="77.1" y="261.4" width="1.8" height="1.8" fill="#41913a"/><text x="81.2" y="263.65" font-size="4.4" fill="#1a1a1a" textLength="40.7" lengthAdjust="spacingAndGlyphs">Prior midostaurin exposure</text>
<path d="M130.4 261.35L131.4 263.25L129.4 263.25Z" fill="#2f4fb5"/><text x="133.4" y="263.65" font-size="4.4" fill="#1a1a1a" textLength="50.6" lengthAdjust="spacingAndGlyphs">Other prior antineoplastic therapy</text>
<rect x="294.6" y="172.4" width="2.4" height="63.8" fill="#cdc6ba"/>
<rect x="298.5" y="172.4" width="2.4" height="63.8" fill="#cdc6ba"/>
<rect x="302.41" y="172.4" width="2.4" height="63.8" fill="#cdc6ba"/>
<rect x="306.31" y="172.4" width="2.4" height="63.8" fill="#cdc6ba"/>
<rect x="310.21" y="172.4" width="2.4" height="63.8" fill="#cdc6ba"/>
<rect x="314.12" y="172.4" width="2.4" height="63.8" fill="#62a6cb"/>
<rect x="318.02" y="172.4" width="2.4" height="63.8" fill="#0d4f8b"/>
<rect x="321.92" y="172.4" width="2.4" height="63.8" fill="#cdc6ba"/>
<rect x="325.82" y="172.4" width="2.4" height="63.8" fill="#cdc6ba"/>
<rect x="329.73" y="172.4" width="2.4" height="63.8" fill="#cdc6ba"/>
<rect x="333.63" y="172.4" width="2.4" height="63.8" fill="#cdc6ba"/>
<rect x="337.53" y="172.4" width="2.4" height="63.8" fill="#cdc6ba"/>
<rect x="341.44" y="172.4" width="2.4" height="63.8" fill="#cdc6ba"/>
<rect x="345.34" y="172.4" width="2.4" height="63.8" fill="#0d4f8b"/>
<rect x="349.24" y="172.4" width="2.4" height="62.6" fill="#cdc6ba"/>
<rect x="353.15" y="172.4" width="2.4" height="62.51" fill="#cdc6ba"/>
<rect x="357.05" y="172.4" width="2.4" height="62.42" fill="#cdc6ba"/>
<rect x="360.95" y="172.4" width="2.4" height="62.34" fill="#cdc6ba"/>
<rect x="364.85" y="172.4" width="2.4" height="62.25" fill="#cdc6ba"/>
<rect x="368.76" y="172.4" width="2.4" height="62.16" fill="#cdc6ba"/>
<rect x="372.66" y="172.4" width="2.4" height="62.08" fill="#cdc6ba"/>
<rect x="376.56" y="172.4" width="2.4" height="61.99" fill="#cdc6ba"/>
<rect x="380.47" y="172.4" width="2.4" height="61.9" fill="#cdc6ba"/>
<rect x="384.37" y="172.4" width="2.4" height="61.5" fill="#0d4f8b"/>
<rect x="388.27" y="172.4" width="2.4" height="61.1" fill="#cdc6ba"/>
<rect x="392.18" y="172.4" width="2.4" height="60.8" fill="#cdc6ba"/>
<rect x="396.08" y="172.4" width="2.4" height="60.5" fill="#cdc6ba"/>
<rect x="399.98" y="172.4" width="2.4" height="60.2" fill="#cdc6ba"/>
<rect x="403.88" y="172.4" width="2.4" height="59.8" fill="#cdc6ba"/>
<rect x="407.79" y="172.4" width="2.4" height="59.1" fill="#0d4f8b"/>
<rect x="411.69" y="172.4" width="2.4" height="58.9" fill="#cdc6ba"/>
<rect x="415.59" y="172.4" width="2.4" height="58.6" fill="#0d4f8b"/>
<rect x="419.5" y="172.4" width="2.4" height="57.6" fill="#cdc6ba"/>
<rect x="423.4" y="172.4" width="2.4" height="56.9" fill="#62a6cb"/>
<rect x="427.3" y="172.4" width="2.4" height="56.4" fill="#62a6cb"/>
<rect x="431.2" y="172.4" width="2.4" height="55.6" fill="#cdc6ba"/>
<rect x="435.11" y="172.4" width="2.4" height="54.8" fill="#62a6cb"/>
<rect x="439.01" y="172.4" width="2.4" height="53" fill="#0d4f8b"/>
<rect x="442.91" y="172.4" width="2.4" height="52.6" fill="#cdc6ba"/>
<rect x="446.82" y="172.4" width="2.4" height="52.4" fill="#cdc6ba"/>
<rect x="450.72" y="172.4" width="2.4" height="50.3" fill="#0d4f8b"/>
<rect x="454.62" y="172.4" width="2.4" height="50.2" fill="#62a6cb"/>
<rect x="458.53" y="172.4" width="2.4" height="49.3" fill="#cdc6ba"/>
<rect x="462.43" y="172.4" width="2.4" height="47.6" fill="#cdc6ba"/>
<rect x="466.33" y="172.4" width="2.4" height="46.4" fill="#cdc6ba"/>
<rect x="470.24" y="172.4" width="2.4" height="45.3" fill="#cdc6ba"/>
<rect x="474.14" y="172.4" width="2.4" height="41" fill="#0d4f8b"/>
<rect x="478.04" y="172.4" width="2.4" height="37.6" fill="#cdc6ba"/>
<rect x="481.94" y="172.4" width="2.4" height="35.5" fill="#cdc6ba"/>
<rect x="485.85" y="172.4" width="2.4" height="34.8" fill="#cdc6ba"/>
<rect x="489.75" y="172.4" width="2.4" height="24.5" fill="#cdc6ba"/>
<rect x="493.65" y="172.4" width="2.4" height="19.4" fill="#cdc6ba"/>
<rect x="497.56" y="172.4" width="2.4" height="17.2" fill="#cdc6ba"/>
<rect x="501.46" y="172.4" width="2.4" height="16.8" fill="#cdc6ba"/>
<rect x="505.36" y="172.4" width="2.4" height="15" fill="#cdc6ba"/>
<rect x="509.27" y="172.4" width="2.4" height="4" fill="#cdc6ba"/>
<rect x="513.17" y="143.7" width="2.4" height="28.7" fill="#cdc6ba"/>
<line x1="291.7" y1="204.6" x2="519" y2="204.6" stroke="#2e2e2e" stroke-width="0.95" stroke-dasharray="1.2 0.8"/>
<line x1="291.7" y1="236.3" x2="518" y2="236.3" stroke="#2e2e2e" stroke-width="0.95" stroke-dasharray="1.2 0.8"/>
<line x1="291.7" y1="172.3" x2="518.4" y2="172.3" stroke="#666" stroke-width="1.2"/>
<line x1="291.7" y1="146.6" x2="291.7" y2="247" stroke="#888" stroke-width="1"/>
<line x1="291.2" y1="247" x2="518.3" y2="247" stroke="#777" stroke-width="1.3"/>
<line x1="289.9" y1="146.6" x2="291.7" y2="146.6" stroke="#222" stroke-width="0.8"/>
<text x="289.4" y="148.34" font-size="3.8" fill="#222" text-anchor="end" stroke="#222" stroke-width="0.12">40</text>
<line x1="289.9" y1="159.4" x2="291.7" y2="159.4" stroke="#222" stroke-width="0.8"/>
<text x="289.4" y="161.14" font-size="3.8" fill="#222" text-anchor="end" stroke="#222" stroke-width="0.12">20</text>
<line x1="289.9" y1="172.3" x2="291.7" y2="172.3" stroke="#222" stroke-width="0.8"/>
<text x="289.4" y="174.04" font-size="3.8" fill="#222" text-anchor="end" stroke="#222" stroke-width="0.12">0</text>
<line x1="289.9" y1="185.4" x2="291.7" y2="185.4" stroke="#222" stroke-width="0.8"/>
<text x="289.4" y="187.14" font-size="3.8" fill="#222" text-anchor="end" stroke="#222" stroke-width="0.12">−20</text>
<line x1="289.9" y1="198.1" x2="291.7" y2="198.1" stroke="#222" stroke-width="0.8"/>
<text x="289.4" y="199.84" font-size="3.8" fill="#222" text-anchor="end" stroke="#222" stroke-width="0.12">−40</text>
<line x1="289.9" y1="210.9" x2="291.7" y2="210.9" stroke="#222" stroke-width="0.8"/>
<text x="289.4" y="212.64" font-size="3.8" fill="#222" text-anchor="end" stroke="#222" stroke-width="0.12">−60</text>
<line x1="289.9" y1="223.4" x2="291.7" y2="223.4" stroke="#222" stroke-width="0.8"/>
<text x="289.4" y="225.14" font-size="3.8" fill="#222" text-anchor="end" stroke="#222" stroke-width="0.12">−80</text>
<line x1="289.9" y1="236.2" x2="291.7" y2="236.2" stroke="#222" stroke-width="0.8"/>
<text x="289.4" y="237.94" font-size="3.8" fill="#222" text-anchor="end" stroke="#222" stroke-width="0.12">−100</text>
<rect x="295" y="161.7" width="1.6" height="1.6" fill="#6a9fb8"/>
<rect x="298.9" y="161.7" width="1.6" height="1.6" fill="#6a9fb8"/>
<rect x="302.81" y="161.7" width="1.6" height="1.6" fill="#6a9fb8"/>
<rect x="306.71" y="161.7" width="1.6" height="1.6" fill="#6a9fb8"/>
<rect x="310.61" y="161.7" width="1.6" height="1.6" fill="#6a9fb8"/>
<rect x="314.51" y="161.7" width="1.6" height="1.6" fill="#6a9fb8"/>
<rect x="318.42" y="161.7" width="1.6" height="1.6" fill="#6a9fb8"/>
<rect x="322.32" y="161.7" width="1.6" height="1.6" fill="#6a9fb8"/>
<rect x="326.22" y="161.7" width="1.6" height="1.6" fill="#6a9fb8"/>
<rect x="330.13" y="161.7" width="1.6" height="1.6" fill="#6a9fb8"/>
<rect x="334.03" y="161.7" width="1.6" height="1.6" fill="#6a9fb8"/>
<rect x="337.93" y="161.7" width="1.6" height="1.6" fill="#6a9fb8"/>
<rect x="341.84" y="161.7" width="1.6" height="1.6" fill="#6a9fb8"/>
<rect x="345.74" y="161.7" width="1.6" height="1.6" fill="#6a9fb8"/>
<rect x="349.64" y="161.7" width="1.6" height="1.6" fill="#6a9fb8"/>
<rect x="353.55" y="161.7" width="1.6" height="1.6" fill="#6a9fb8"/>
<rect x="357.45" y="161.7" width="1.6" height="1.6" fill="#6a9fb8"/>
<rect x="361.35" y="161.7" width="1.6" height="1.6" fill="#6a9fb8"/>
<rect x="365.25" y="161.7" width="1.6" height="1.6" fill="#6a9fb8"/>
<rect x="369.16" y="161.7" width="1.6" height="1.6" fill="#6a9fb8"/>
<rect x="373.06" y="161.7" width="1.6" height="1.6" fill="#6a9fb8"/>
<rect x="376.96" y="161.7" width="1.6" height="1.6" fill="#6a9fb8"/>
<rect x="380.87" y="161.7" width="1.6" height="1.6" fill="#6a9fb8"/>
<rect x="384.77" y="161.7" width="1.6" height="1.6" fill="#6a9fb8"/>
<rect x="392.57" y="161.7" width="1.6" height="1.6" fill="#6a9fb8"/>
<rect x="404.28" y="161.7" width="1.6" height="1.6" fill="#6a9fb8"/>
<rect x="408.19" y="161.7" width="1.6" height="1.6" fill="#6a9fb8"/>
<rect x="423.8" y="161.7" width="1.6" height="1.6" fill="#6a9fb8"/>
<rect x="427.7" y="161.7" width="1.6" height="1.6" fill="#6a9fb8"/>
<rect x="455.02" y="161.7" width="1.6" height="1.6" fill="#6a9fb8"/>
<rect x="462.83" y="161.7" width="1.6" height="1.6" fill="#6a9fb8"/>
<rect x="470.63" y="161.7" width="1.6" height="1.6" fill="#6a9fb8"/>
<circle cx="295.8" cy="165.7" r="0.75" fill="#e65a5c"/>
<circle cx="299.7" cy="165.7" r="0.75" fill="#e65a5c"/>
<circle cx="303.61" cy="165.7" r="0.75" fill="#e65a5c"/>
<circle cx="307.51" cy="165.7" r="0.75" fill="#e65a5c"/>
<circle cx="311.41" cy="165.7" r="0.75" fill="#e65a5c"/>
<circle cx="315.31" cy="165.7" r="0.75" fill="#e65a5c"/>
<circle cx="319.22" cy="165.7" r="0.75" fill="#e65a5c"/>
<circle cx="323.12" cy="165.7" r="0.75" fill="#e65a5c"/>
<circle cx="327.02" cy="165.7" r="0.75" fill="#e65a5c"/>
<circle cx="330.93" cy="165.7" r="0.75" fill="#e65a5c"/>
<circle cx="334.83" cy="165.7" r="0.75" fill="#e65a5c"/>
<circle cx="338.73" cy="165.7" r="0.75" fill="#e65a5c"/>
<circle cx="342.64" cy="165.7" r="0.75" fill="#e65a5c"/>
<circle cx="362.15" cy="165.7" r="0.75" fill="#e65a5c"/>
<circle cx="366.05" cy="165.7" r="0.75" fill="#e65a5c"/>
<circle cx="377.76" cy="165.7" r="0.75" fill="#e65a5c"/>
<circle cx="381.67" cy="165.7" r="0.75" fill="#e65a5c"/>
<circle cx="385.57" cy="165.7" r="0.75" fill="#e65a5c"/>
<circle cx="463.63" cy="165.7" r="0.75" fill="#e65a5c"/>
<circle cx="471.44" cy="165.7" r="0.75" fill="#e65a5c"/>
<path d="M295.8 168.01L297.05 170.39L294.55 170.39Z" fill="#2f4fb5"/>
<path d="M299.7 168.01L300.95 170.39L298.45 170.39Z" fill="#2f4fb5"/>
<path d="M307.51 168.01L308.76 170.39L306.26 170.39Z" fill="#2f4fb5"/>
<path d="M311.41 168.01L312.66 170.39L310.16 170.39Z" fill="#2f4fb5"/>
<path d="M330.93 168.01L332.18 170.39L329.68 170.39Z" fill="#2f4fb5"/>
<path d="M350.44 168.01L351.69 170.39L349.19 170.39Z" fill="#2f4fb5"/>
<path d="M385.57 168.01L386.82 170.39L384.32 170.39Z" fill="#2f4fb5"/>
<path d="M412.89 168.01L414.14 170.39L411.64 170.39Z" fill="#2f4fb5"/>
<path d="M420.7 168.01L421.95 170.39L419.45 170.39Z" fill="#2f4fb5"/>
<path d="M424.6 168.01L425.85 170.39L423.35 170.39Z" fill="#2f4fb5"/>
<path d="M436.31 168.01L437.56 170.39L435.06 170.39Z" fill="#2f4fb5"/>
<path d="M440.21 168.01L441.46 170.39L438.96 170.39Z" fill="#2f4fb5"/>
<path d="M498.76 168.01L500.01 170.39L497.51 170.39Z" fill="#2f4fb5"/>
<path d="M506.56 168.01L507.81 170.39L505.31 170.39Z" fill="#2f4fb5"/>
<rect x="302.56" y="168.15" width="2.1" height="2.1" fill="#41913a"/>
<rect x="325.97" y="168.15" width="2.1" height="2.1" fill="#41913a"/>
<rect x="337.68" y="168.15" width="2.1" height="2.1" fill="#41913a"/>
<rect x="353.3" y="168.15" width="2.1" height="2.1" fill="#41913a"/>
<rect x="368.91" y="168.15" width="2.1" height="2.1" fill="#41913a"/>
<rect x="400.13" y="168.15" width="2.1" height="2.1" fill="#41913a"/>
<rect x="427.45" y="168.15" width="2.1" height="2.1" fill="#41913a"/>
<rect x="443.06" y="168.15" width="2.1" height="2.1" fill="#41913a"/>
<rect x="446.97" y="168.15" width="2.1" height="2.1" fill="#41913a"/>
<rect x="450.87" y="168.15" width="2.1" height="2.1" fill="#41913a"/>
<rect x="454.77" y="168.15" width="2.1" height="2.1" fill="#41913a"/>
<rect x="470.38" y="168.15" width="2.1" height="2.1" fill="#41913a"/>
<rect x="474.29" y="168.15" width="2.1" height="2.1" fill="#41913a"/>
<rect x="478.19" y="168.15" width="2.1" height="2.1" fill="#41913a"/>
<rect x="486" y="168.15" width="2.1" height="2.1" fill="#41913a"/>
<rect x="501.61" y="168.15" width="2.1" height="2.1" fill="#41913a"/>
<rect x="509.42" y="168.15" width="2.1" height="2.1" fill="#41913a"/>
<text x="269.5" y="140.6" font-size="8.6" fill="#c8131f" font-weight="bold" font-style="italic" textLength="13.8" lengthAdjust="spacingAndGlyphs">KIT</text>
<text x="285.7" y="140.6" font-size="8.6" fill="#c8131f" font-weight="bold" textLength="50.6" lengthAdjust="spacingAndGlyphs">D816V VAF:</text>
<text x="342" y="141.3" font-size="9.2" fill="#262626" textLength="167.6" lengthAdjust="spacingAndGlyphs" stroke="#262626" stroke-width="0.2">≥50% reduction in 80%; undetectable in 30%</text>
<text transform="translate(274.03 199.5) rotate(-90)" x="0" y="0" font-size="3.7" font-weight="bold" fill="#1e1e1e" text-anchor="middle" textLength="89" lengthAdjust="spacingAndGlyphs">Maximum percent change in <tspan font-style="italic">KIT</tspan> D816V mutation</text>
<text transform="translate(277.43 199) rotate(-90)" x="0" y="0" font-size="3.7" font-weight="bold" fill="#1e1e1e" text-anchor="middle" textLength="88" lengthAdjust="spacingAndGlyphs">allele fraction in bone marrow from baseline (%)</text>
<text x="364.7" y="258.25" font-size="4.4" fill="#1a1a1a" textLength="15.8" lengthAdjust="spacingAndGlyphs">Diagnosis</text>
<rect x="386.95" y="255.2" width="2.7" height="3.4" fill="#0d4f8b"/>
<text x="392" y="258.25" font-size="4.4" fill="#1a1a1a" textLength="7.3" lengthAdjust="spacingAndGlyphs">MCL</text>
<rect x="406.55" y="255.2" width="2.7" height="3.4" fill="#cdc6ba"/>
<text x="410.8" y="258.25" font-size="4.4" fill="#1a1a1a" textLength="14.4" lengthAdjust="spacingAndGlyphs">SM-AHN</text>
<rect x="432.45" y="255.2" width="2.7" height="3.4" fill="#62a6cb"/>
<text x="436.7" y="258.25" font-size="4.4" fill="#1a1a1a" textLength="7.8" lengthAdjust="spacingAndGlyphs">ASM</text>
<circle cx="382" cy="263.2" r="0.8" fill="#e65a5c"/><text x="384.8" y="264.55" font-size="4.4" fill="#1a1a1a" textLength="19.6" lengthAdjust="spacingAndGlyphs">WAF &lt;0.17%</text>
<rect x="413" y="262.5" width="1.4" height="1.4" fill="#6a9fb8"/><text x="416" y="264.55" font-size="4.4" fill="#1a1a1a" textLength="15" lengthAdjust="spacingAndGlyphs">WAF &lt;1%</text>
<rect x="350.2" y="268.1" width="1.8" height="1.8" fill="#41913a"/><text x="353.7" y="270.35" font-size="4.4" fill="#1a1a1a" textLength="41.3" lengthAdjust="spacingAndGlyphs">Prior midostaurin exposure</text>
<path d="M405.6 268.05L406.6 269.95L404.6 269.95Z" fill="#2f4fb5"/><text x="408.8" y="270.35" font-size="4.4" fill="#1a1a1a" textLength="51.2" lengthAdjust="spacingAndGlyphs">Other prior antineoplastic therapy</text>
</svg>
</body></html>
